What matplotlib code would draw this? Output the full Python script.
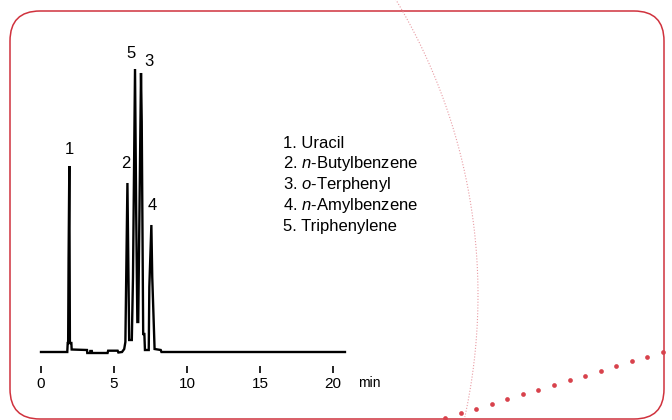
import numpy as np
import matplotlib
matplotlib.use("Agg")
import matplotlib.pyplot as plt
from matplotlib.patches import FancyBboxPatch

plt.rcParams['font.family'] = ['Liberation Sans', 'DejaVu Sans']
plt.rcParams['mathtext.fontset'] = 'custom'
plt.rcParams['mathtext.rm'] = 'Liberation Sans'
plt.rcParams['mathtext.it'] = 'Liberation Sans:italic'

# ---- data: chromatogram trace (time in min, detector signal, arbitrary units)
time = [0.00, 1.80, 1.83, 1.86, 1.89, 1.94, 1.98, 2.08, 2.10,
        3.15, 3.17, 3.36, 3.38, 3.48, 3.50, 4.56, 4.60, 5.25, 5.30,
        5.55, 5.70, 5.78, 5.92, 6.04, 6.22, 6.30, 6.44, 6.52, 6.60,
        6.66, 6.85, 6.90, 7.00, 7.08, 7.12, 7.38, 7.42, 7.56, 7.62,
        7.78, 8.20, 8.25, 20.82]
signal = [0, 0, 9, 9, 94, 186, 9, 9, 2.5,
          2.0, -1.0, -1.0, 1.0, 1.0, -1.0, -1.0, 1.3, 1.3, -0.5,
          0, 3, 10, 169, 12, 12, 74, 283, 140, 30,
          30, 279, 230, 18, 18, 2, 2, 65, 127, 75,
          3, 2, 0, 0]

peak_ids = ["1", "2", "5", "3", "4"]
peak_label_t = [1.92, 5.84, 6.16, 7.40, 7.60]
peak_label_h = [203, 189, 299, 290, 146]

compounds = ["1. Uracil",
             r"2. $\mathit{n}$-Butylbenzene",
             r"3. $\mathit{o}$-Terphenyl",
             r"4. $\mathit{n}$-Amylbenzene",
             "5. Triphenylene"]

xticks = [0, 5, 10, 15, 20]
xlabel = "min"

W, H = 672, 420
fig = plt.figure(figsize=(W / 100, H / 100), dpi=100)

# decoration layer (pixel coordinates)
deco = fig.add_axes([0, 0, 1, 1], zorder=0)
deco.set_xlim(0, W)
deco.set_ylim(H, 0)
deco.axis('off')
box = FancyBboxPatch((10, 11), 654, 408,
                     boxstyle="round,pad=0,rounding_size=30",
                     fill=False, edgecolor='#d0323d', linewidth=1.1)
deco.add_patch(box)
th = np.linspace(-0.551, 0.215, 200)
cx, cy, r = -94, 295, 572
deco.plot(cx + r * np.cos(th), cy + r * np.sin(th), color='#e89aa2',
          lw=0.8, ls=(0, (1, 1.6)))
dx = np.linspace(445, 663, 15)
dy = np.linspace(418, 352, 15)
deco.plot(dx, dy, 'o', color='#d8424c', ms=3.4, mec='none')

# chart
ax = fig.add_axes([30 / W, (H - 366) / H, 330 / W, 316 / H], zorder=1)
ax.patch.set_alpha(0)
ax.plot(time, signal, color='black', lw=1.7, solid_joinstyle='miter')
ax.set_xlim(-0.753, 21.85)
ax.set_ylim(-14, 302)
for s in ax.spines.values():
    s.set_visible(False)
ax.set_yticks([])
ax.set_xticks(xticks)
ax.set_xticklabels([str(v) for v in xticks])
ax.tick_params(axis='x', direction='out', length=5, width=1.2, pad=3,
               labelsize=11, color='black')

for lab, t, h in zip(peak_ids, peak_label_t, peak_label_h):
    ax.text(t, h, lab, fontsize=12, ha='center', va='center')

fig.text(358 / W, 1 - 383 / H, xlabel, fontsize=10, ha='left', va='center')

for i, c in enumerate(compounds):
    fig.text(283 / W, 1 - (143 + 20.8 * i) / H, c, fontsize=12,
             ha='left', va='center')

fig.savefig("out.png", dpi=100)
